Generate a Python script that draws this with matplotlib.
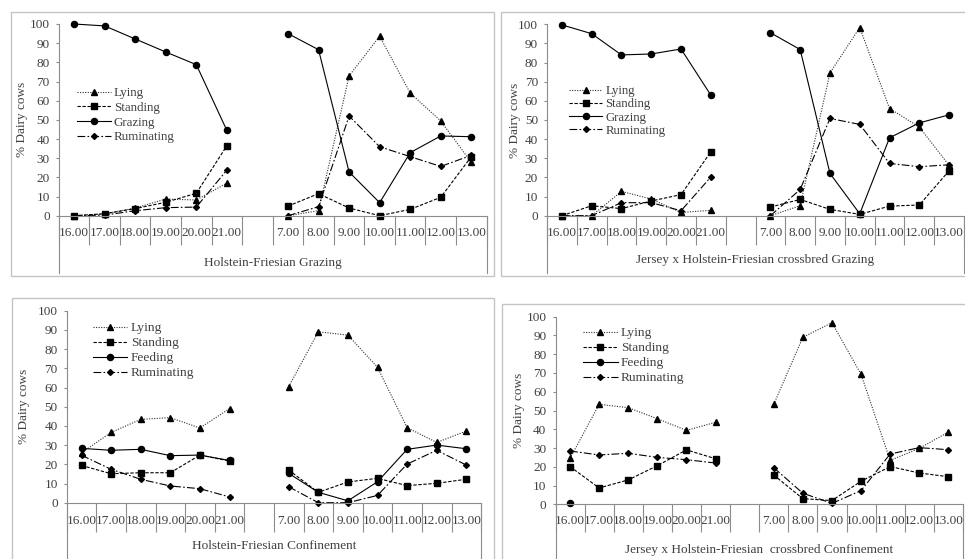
import matplotlib
matplotlib.use("Agg")
import matplotlib.pyplot as plt
import numpy as np
from matplotlib.lines import Line2D
from matplotlib.patches import Rectangle

nan = np.nan

categories = ["16.00", "17.00", "18.00", "19.00", "20.00", "21.00", "",
              "7.00", "8.00", "9.00", "10.00", "11.00", "12.00", "13.00"]

# Holstein-Friesian grazing
hf_graz_lying = [0, 1, 4, 8.7, 8.2, 17, nan, 0, 2.6, 72.9, 93.6, 64, 49.4, 27.8]
hf_graz_standing = [0, 1, 3.7, 7, 11.7, 36.5, nan, 5, 11.5, 4, 0, 3.3, 9.6, 30.8]
hf_graz_grazing = [100, 99, 92.2, 85.4, 78.8, 44.5, nan, 95, 86.6, 22.8, 6.8, 32.9, 41.6, 41.2]
hf_graz_ruminating = [0, 0.3, 2.6, 4.2, 4.5, 23.8, nan, 0, 4.7, 52, 36, 30.8, 25.7, 31.5]

# Jersey x Holstein-Friesian grazing
jx_graz_lying = [0, 0, 12.7, 8.7, 1.7, 2.8, nan, 0, 5.2, 74.6, 98.3, 56, 46.3, 26.3]
jx_graz_standing = [0, 5.2, 3.7, 7.7, 11, 33.4, nan, 4.5, 8.5, 3.3, 0.7, 5, 5.6, 23.5]
jx_graz_grazing = [99.7, 95.1, 84, 84.5, 87.1, 63, nan, 95.6, 86.8, 22.1, 1, 40.7, 48.5, 52.7]
jx_graz_ruminating = [0, 0, 6.8, 6.8, 2.6, 20.2, nan, 0, 13.7, 50.8, 47.7, 27.3, 25.6, 26.6]

# Holstein-Friesian confinement
hf_conf_lying = [26, 36.6, 43.4, 44.3, 38.9, 49, nan, 60.4, 89, 87.3, 70.5, 39.1, 31.4, 37.3]
hf_conf_standing = [19.4, 15.1, 15.6, 15.6, 24.8, 21.7, nan, 17, 5.4, 10.8, 12.7, 8.9, 10.1, 12.2]
hf_conf_feeding = [28.3, 27.3, 27.8, 24.5, 24.8, 22, nan, 15.3, 5.4, 1, 10.9, 27.8, 30, 28.1]
hf_conf_ruminating = [24.7, 17.4, 12.2, 8.7, 7.3, 3, nan, 8.3, 0, 0, 3.8, 20.1, 27.3, 19.6]

# Jersey x Holstein-Friesian confinement
jx_conf_lying = [24.5, 53.3, 51.5, 45.6, 39.4, 43.7, nan, 53.3, 89, 96.8, 69.3, 23.4, 29.8, 38.5]
jx_conf_standing = [20.1, 8.7, 13, 20.6, 29, 24.3, nan, 15.6, 3, 2, 12.3, 20.1, 16.7, 14.7]
jx_conf_feeding = [0.9, nan, nan, nan, nan, nan, nan, nan, nan, nan, nan, nan, nan, nan]
jx_conf_ruminating = [28.4, 26.3, 27.2, 25, 23.8, 22, nan, 19.5, 5.9, 0.5, 7.3, 26.8, 30.2, 29.1]

W, H = 965, 559
TEXT = "#404040"
AXIS = "#8c8c8c"
FRAME = "#c4c4c4"
FONT = "Liberation Serif"

plt.rcParams["font.family"] = FONT
plt.rcParams["text.color"] = TEXT

STYLES = [
    dict(linestyle=(0, (1, 1.3)), marker="^", markersize=4.6, color="#303030"),
    dict(linestyle=(0, (3, 1.5)), marker="s", markersize=4.2, color="black"),
    dict(linestyle="-", marker="o", markersize=4.4, color="black"),
    dict(linestyle=(0, (7, 2, 1.5, 2)), marker="D", markersize=3.0, color="black"),
]


def fig_rect(x0, x1, y_top, y_bot):
    return [x0 / W, 1 - y_bot / H, (x1 - x0) / W, (y_bot - y_top) / H]


def draw_panel(fig, panel):
    x0, x1, y100, y0 = panel["axes_px"]
    ax = fig.add_axes(fig_rect(x0, x1, y100, y0))
    ax.set_facecolor("none")

    idx = np.arange(len(categories))
    for values, label, style in zip(panel["series"], panel["labels"], STYLES):
        ax.plot(idx, values, label=label, linewidth=0.8, clip_on=False,
                markeredgecolor="black", markerfacecolor="black", **style)

    ax.set_xlim(-0.5, len(categories) - 0.5)
    ax.set_ylim(0, 100)
    ax.set_yticks(np.arange(0, 101, 10))

    for side in ["top", "right"]:
        ax.spines[side].set_visible(False)
    for side in ["left", "bottom"]:
        ax.spines[side].set_color(AXIS)
        ax.spines[side].set_linewidth(0.8)

    ax.set_xticks(idx)
    ax.set_xticklabels(categories)
    ax.set_xticks(np.arange(-0.5, len(categories), 1), minor=True)
    ax.tick_params(axis="x", which="major", length=0, pad=panel["xpad"],
                   labelsize=9.5, labelcolor=TEXT)
    ax.tick_params(axis="x", which="minor", length=panel["div_len"], width=0.8,
                   color=AXIS, direction="out")
    ax.tick_params(axis="y", length=2.5, width=0.8, color=AXIS, pad=4,
                   labelsize=9.5, labelcolor=TEXT)

    # outer category bracket: y axis and right end reach down to the panel edge
    span = y0 - y100
    low = -(panel["frame_bottom"] - y0) / span
    ax.add_line(Line2D([0, 0], [0, low], transform=ax.transAxes, color=AXIS,
                       linewidth=0.8, clip_on=False))
    ax.add_line(Line2D([1, 1], [0, low], transform=ax.transAxes, color=AXIS,
                       linewidth=0.8, clip_on=False))

    fig.text(panel["ylabel_x"] / W, 1 - (y0 + y100) / 2 / H, "% Dairy cows",
             rotation=90, ha="center", va="center", fontsize=9.5, color=TEXT)
    fig.text((x0 + x1) / 2 / W, 1 - panel["group_y"] / H, panel["group"],
             ha="center", va="center", fontsize=9.5, color=TEXT)

    lx, ly = panel["legend_px"]
    ax.legend(loc="upper left", bbox_to_anchor=(lx / W, 1 - ly / H),
              bbox_transform=fig.transFigure, frameon=False, fontsize=panel["legend_fs"],
              handlelength=2.6, handletextpad=0.25, labelspacing=panel["legend_sp"],
              borderpad=0, borderaxespad=0, numpoints=1, labelcolor=TEXT)

    fx0, fx1, fy0, fy1 = panel["frame"]
    fig.add_artist(Rectangle((fx0 / W, 1 - fy1 / H), (fx1 - fx0) / W, (fy1 - fy0) / H,
                             transform=fig.transFigure, fill=False,
                             edgecolor=FRAME, linewidth=1.0))
    return ax


panels = [
    dict(series=[hf_graz_lying, hf_graz_standing, hf_graz_grazing, hf_graz_ruminating],
         labels=["Lying", "Standing", "Grazing", "Ruminating"],
         group="Holstein-Friesian Grazing",
         axes_px=(58.8, 486.6, 24.0, 215.7), frame=(10.7, 494, 11.7, 275.7),
         frame_bottom=272.7, xpad=8.0, div_len=21, ylabel_x=22, group_y=263,
         legend_px=(76.7, 87), legend_fs=9.4, legend_sp=0.2),
    dict(series=[jx_graz_lying, jx_graz_standing, jx_graz_grazing, jx_graz_ruminating],
         labels=["Lying", "Standing", "Grazing", "Ruminating"],
         group="Jersey x Holstein-Friesian crossbred Grazing",
         axes_px=(547.0, 964.0, 24.3, 215.7), frame=(500.7, 1000, 11.7, 275.7),
         frame_bottom=272.7, xpad=8.0, div_len=21, ylabel_x=514.7, group_y=260,
         legend_px=(569, 85), legend_fs=9.2, legend_sp=0.1),
    dict(series=[hf_conf_lying, hf_conf_standing, hf_conf_feeding, hf_conf_ruminating],
         labels=["Lying", "Standing", "Feeding", "Ruminating"],
         group="Holstein-Friesian Confinement",
         axes_px=(66.7, 481.1, 310.7, 502.7), frame=(11.7, 494, 298.3, 600),
         frame_bottom=600, xpad=8.5, div_len=21, ylabel_x=24, group_y=546,
         legend_px=(92.7, 322), legend_fs=9.6, legend_sp=0.2),
    dict(series=[jx_conf_lying, jx_conf_standing, jx_conf_feeding, jx_conf_ruminating],
         labels=["Lying", "Standing", "Feeding", "Ruminating"],
         group="Jersey x Holstein-Friesian  crossbred Confinement",
         axes_px=(555.5, 962.9, 316.7, 504.3), frame=(502, 1000, 304, 600),
         frame_bottom=600, xpad=8.0, div_len=20, ylabel_x=519, group_y=550,
         legend_px=(583, 327), legend_fs=9.6, legend_sp=0.2),
]

fig = plt.figure(figsize=(W / 100, H / 100), dpi=100)
fig.patch.set_facecolor("white")

for panel in panels:
    draw_panel(fig, panel)

fig.savefig("out.png", dpi=100)
